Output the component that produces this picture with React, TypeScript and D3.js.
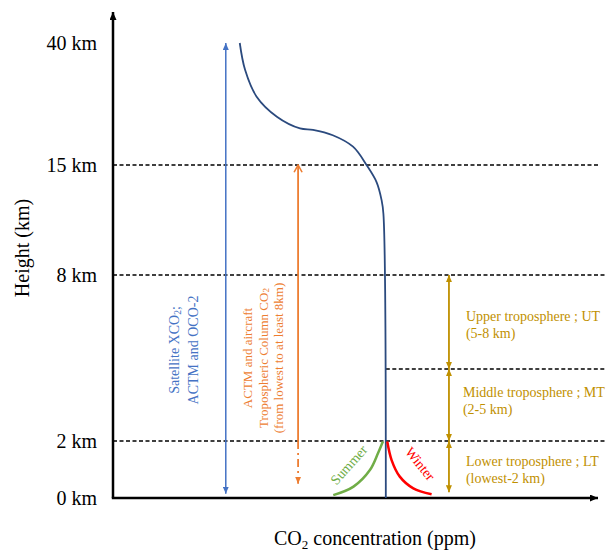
import React from 'react';
import * as d3 from 'd3';

const W = 607, H = 551;
const serif = '"Liberation Serif", "Times New Roman", serif';

// height axis is drawn piecewise: each break gets its own spot on the axis
const heightBreaks = [0, 2, 5, 8, 15, 40];
const heightTicks = [0, 2, 8, 15, 40];

// CO2 profile (arbitrary concentration units, km)
const profileConc = [26.3, 27.4, 29.8, 34.0, 38.8, 41.5, 45.6, 49.8, 52.6, 54.7, 55.7, 56.1, 56.6];
const profileKm = [40, 34.5, 29.0, 24.9, 22.5, 22.2, 21.1, 18.75, 15, 13.9, 12.8, 11.9, 0];

const summerConc = [45.7, 49.9, 53.3, 55.0, 56.0];
const summerKm = [0.1, 0.4, 0.98, 1.58, 1.98];
const winterConc = [56.9, 57.8, 59.5, 62.3, 66.1];
const winterKm = [1.98, 1.33, 0.75, 0.34, 0.13];

// dashed level lines
const levelKm = [15, 8, 5, 2];
const levelFrom = [0, 0, 56.6, 0];
const levelTo = [100.7, 102, 102, 102];

// column arrows
const satConc = 23.4, satKm = [0.15, 40];
const actmConc = 38.4, actmKm = [2, 15], actmDashKm = [0.5, 2];

// troposphere bands
const bandConc = 69.7;
const bandTop = [8, 5, 2];
const bandBottom = [5, 2, 0.2];
const bandNames = ['Upper troposphere ; UT', 'Middle troposphere ; MT', 'Lower troposphere ; LT'];
const bandRanges = ['(5-8 km)', '(2-5 km)', '(lowest-2 km)'];

const x = d3.scaleLinear().domain([0, 100]).range([113, 595]);
const y = d3.scaleLinear().domain(heightBreaks).range([498, 441, 369, 275, 165, 43]);

const line = d3.line<[number, number]>()
    .x(d => x(d[0]))
    .y(d => y(d[1]))
    .curve(d3.curveCatmullRom.alpha(0.5));

const zip = (a: number[], b: number[]) => a.map((v, i) => [v, b[i]] as [number, number]);

const blue = '#4472C4', orange = '#ED7D31', gold = '#BF9000', green = '#70AD47', red = '#FF0000', navy = '#2B4A7E';

const Tri = ({ id, color, w, l }: { id: string, color: string, w: number, l: number }) => (
    <marker id={id} viewBox="0 0 10 10" refX="10" refY="5" markerWidth={l} markerHeight={w}
        markerUnits="userSpaceOnUse" orient="auto-start-reverse" preserveAspectRatio="none">
        <path d="M0,0 L10,5 L0,10 z" fill={color} />
    </marker>
);

export default function App() {
    // label block sits in the middle of its band (lowest band measured from the ground)
    const labelY = (i: number) => (y(bandTop[i]) + y(i === 2 ? 0 : bandBottom[i])) / 2 + (i === 1 ? -5 : i === 0 ? 2 : 0);
    return (
        <svg width={W} height={H} style={{ position: 'absolute', left: 0, top: 0, background: '#fff' }}
            fontFamily={serif}>
            <defs>
                <Tri id="axisHead" color="#000" w={7} l={8} />
                <Tri id="blueHead" color={blue} w={6} l={7} />
                <Tri id="goldHead" color={gold} w={6} l={7} />
                <Tri id="orangeHead" color={orange} w={6} l={7} />
                <marker id="orangeOpen" viewBox="0 0 10 10" refX="9" refY="5" markerWidth={9} markerHeight={10}
                    markerUnits="userSpaceOnUse" orient="auto-start-reverse" preserveAspectRatio="none">
                    <path d="M1,1 L9,5 L1,9" fill="none" stroke={orange} strokeWidth={1.6} />
                </marker>
            </defs>

            {/* dashed level lines */}
            {levelKm.map((k, i) => (
                <line key={k} x1={x(levelFrom[i])} x2={x(levelTo[i])} y1={y(k)} y2={y(k)}
                    stroke="#000" strokeWidth={1.5} strokeDasharray="4 2.5" />
            ))}

            {/* axes */}
            <line x1={x(0)} y1={y(0)} x2={x(0)} y2={12} stroke="#000" strokeWidth={2.5} markerEnd="url(#axisHead)" />
            <line x1={x(0) - 1.2} y1={y(0)} x2={x(100) + 3} y2={y(0)} stroke="#000" strokeWidth={2.5} markerEnd="url(#axisHead)" />

            {heightTicks.map(t => (
                <text key={t} x={97} y={y(t)} textAnchor="end" dominantBaseline="central" fontSize={20}>{t} km</text>
            ))}
            <text transform={`translate(22,248) rotate(-90)`} textAnchor="middle" dominantBaseline="central" fontSize={20}>Height (km)</text>
            <text x={375} y={545} textAnchor="middle" fontSize={20}>
                CO<tspan fontSize={13} dy={4}>2</tspan><tspan dy={-4}> concentration (ppm)</tspan>
            </text>

            {/* satellite column */}
            <line x1={x(satConc)} x2={x(satConc)} y1={y(satKm[0])} y2={y(satKm[1])} stroke={blue} strokeWidth={1.5}
                markerStart="url(#blueHead)" markerEnd="url(#blueHead)" />
            <g transform={`translate(${x(satConc) - 41.5},350) rotate(-90)`} fill={blue} fontSize={14} textAnchor="middle" dominantBaseline="central">
                <text y={-9.5}>Satellite XCO<tspan fontSize={9.5} dy={3}>2</tspan><tspan dy={-3}>;</tspan></text>
                <text y={9.5}>ACTM and OCO-2</text>
            </g>

            {/* ACTM / aircraft column */}
            <line x1={x(actmConc)} x2={x(actmConc)} y1={y(actmKm[0])} y2={y(actmKm[1])} stroke={orange} strokeWidth={1.8}
                markerEnd="url(#orangeOpen)" />
            <line x1={x(actmConc)} x2={x(actmConc)} y1={y(actmDashKm[1])} y2={y(actmDashKm[0])} stroke={orange} strokeWidth={1.8}
                strokeDasharray="8 4 2 4" markerEnd="url(#orangeHead)" />
            <g transform={`translate(${x(actmConc) - 35},358) rotate(-90)`} fill={orange} fontSize={13} textAnchor="middle" dominantBaseline="central">
                <text y={-16}>ACTM and aircraft</text>
                <text y={0}>Tropospheric Column CO<tspan fontSize={9} dy={3}>2</tspan></text>
                <text y={15.5}>(from lowest to at least 8km)</text>
            </g>

            {/* CO2 profile */}
            <path d={line(zip(profileConc, profileKm)) || ''} fill="none" stroke={navy} strokeWidth={1.8} />
            <path d={line(zip(summerConc, summerKm)) || ''} fill="none" stroke={green} strokeWidth={2.5} />
            <path d={line(zip(winterConc, winterKm)) || ''} fill="none" stroke={red} strokeWidth={2.5} />
            <text transform={`translate(349,465) rotate(-48)`} textAnchor="middle" dominantBaseline="central" fontSize={14} fill={green}>Summer</text>
            <text transform={`translate(420,464) rotate(51)`} textAnchor="middle" dominantBaseline="central" fontSize={14} fill={red}>Winter</text>

            {/* troposphere bands */}
            {bandTop.map((t, i) => (
                <g key={t}>
                    <line x1={x(bandConc)} x2={x(bandConc)} y1={y(bandBottom[i])} y2={y(t)} stroke={gold} strokeWidth={1.8}
                        markerStart="url(#goldHead)" markerEnd="url(#goldHead)" />
                    <text x={x(bandConc) + (i === 1 ? 14 : 17)} y={labelY(i) - 8} dominantBaseline="central" fontSize={14} fill={gold}>{bandNames[i]}</text>
                    <text x={x(bandConc) + (i === 1 ? 14 : 17)} y={labelY(i) + 9} dominantBaseline="central" fontSize={14} fill={gold}>{bandRanges[i]}</text>
                </g>
            ))}
        </svg>
    );
}
